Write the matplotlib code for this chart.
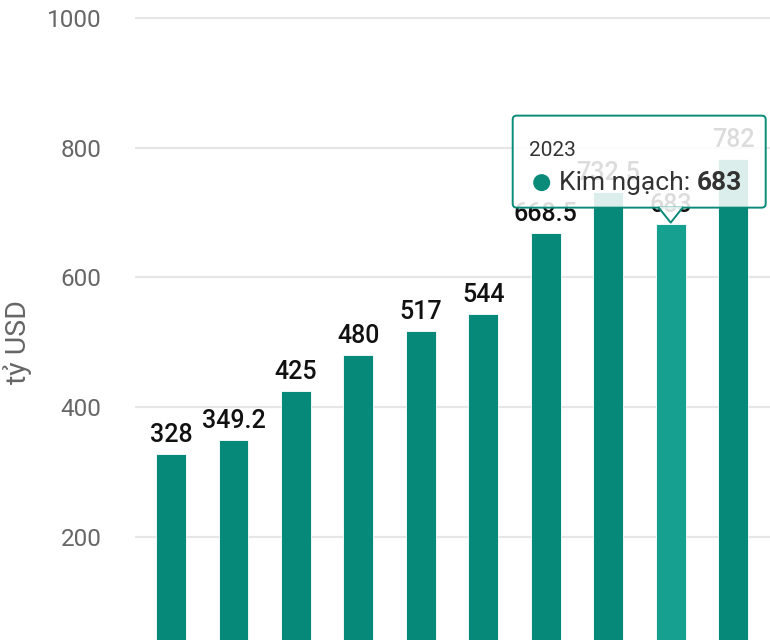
import matplotlib
matplotlib.use('Agg')
import matplotlib.pyplot as plt
from matplotlib.patches import FancyBboxPatch, Polygon, Circle
import numpy as np

# Vietnam trade turnover, billion USD
years = ['2015', '2016', '2017', '2018', '2019', '2020', '2021', '2022', '2023', '2024']
values = [328, 349.2, 425, 480, 517, 544, 668.5, 732.5, 683, 782]
labels = ['328', '349.2', '425', '480', '517', '544', '668.5', '732.5', '683', '782']
yticks = [200, 400, 600, 800, 1000]
hover_idx = 8  # tooltip shown on 2023

plt.rcParams['font.family'] = ['Roboto', 'DejaVu Sans']

BAR = '#07897a'
BAR_HOVER = '#16a08f'

fig = plt.figure(figsize=(7.7, 6.4), dpi=100)
ax = fig.add_axes([135 / 770, 0, 635 / 770, 1])

x = np.arange(len(years))
colors = [BAR_HOVER if i == hover_idx else BAR for i in range(len(years))]
bars = ax.bar(x, values, width=0.48, color=colors, edgecolor='white', linewidth=0.6, zorder=2)

for b, lab in zip(bars, labels):
    ax.annotate(lab, xy=(b.get_x() + b.get_width() / 2, b.get_height()),
                xytext=(0, 5), textcoords='offset points',
                ha='center', va='bottom', fontsize=18, fontweight='medium',
                color='#111111', zorder=3)

ax.set_xlim(-0.577, 9.59)
ax.set_ylim(41.2, 1027.7)
ax.set_yticks(yticks)
ax.set_xticks(x, labels=years)
ax.tick_params(axis='y', length=0, pad=24, labelsize=17.5, labelcolor='#666666')
ax.tick_params(axis='x', length=0, labelbottom=False)
ax.grid(axis='y', color='#e6e6e6', linewidth=1.5, zorder=0)
ax.set_axisbelow(True)
for s in ax.spines.values():
    s.set_visible(False)

ax.set_ylabel('tỷ USD', fontsize=20.5, color='#666666')
ax.yaxis.set_label_coords(-0.162, 0.465)

# tooltip drawn in display pixels, anchored to the hovered bar top
fig.canvas.draw()
renderer = fig.canvas.get_renderer()
tx, ty = ax.transData.transform((x[hover_idx], values[hover_idx]))
box_l, box_r = tx - 158, tx + 95
box_b, box_t = ty + 16, ty + 108
teal = '#0a8a78'

box = FancyBboxPatch((box_l, box_b), box_r - box_l, box_t - box_b,
                     boxstyle='round,pad=0,rounding_size=4',
                     facecolor='white', alpha=0.86, edgecolor='none',
                     transform=None, zorder=5)
fig.patches.append(box)
edge = FancyBboxPatch((box_l, box_b), box_r - box_l, box_t - box_b,
                      boxstyle='round,pad=0,rounding_size=4',
                      facecolor='none', edgecolor=teal, linewidth=1.4,
                      transform=None, zorder=6)
fig.patches.append(edge)
tri = Polygon([[tx - 12, box_b + 0.8], [tx + 12, box_b + 0.8], [tx, ty + 1]],
              closed=True, facecolor='white', alpha=0.86, edgecolor='none',
              transform=None, zorder=6)
fig.patches.append(tri)
fig.lines.append(plt.Line2D([tx - 12, tx, tx + 12], [box_b, ty + 1, box_b],
                            color=teal, linewidth=1.4, transform=None, zorder=7))

fig.text((box_l + 16) / 770, (box_t - 35) / 640, years[hover_idx],
         fontsize=15, color='#333333', va='center', ha='left', zorder=8)
dot = Circle((box_l + 29, box_t - 67), 8.5, facecolor=teal, edgecolor='none',
             transform=None, zorder=8)
fig.patches.append(dot)
t1 = fig.text((box_l + 46) / 770, (box_t - 67) / 640, 'Kim ngạch: ',
              fontsize=19, color='#333333', va='center', ha='left', zorder=8)
t1_ext = t1.get_window_extent(renderer=renderer)
fig.text(t1_ext.x1 / 770, (box_t - 67) / 640, labels[hover_idx],
         fontsize=19, fontweight='bold', color='#333333', va='center', ha='left', zorder=8)

fig.savefig('out.png', dpi=100)
